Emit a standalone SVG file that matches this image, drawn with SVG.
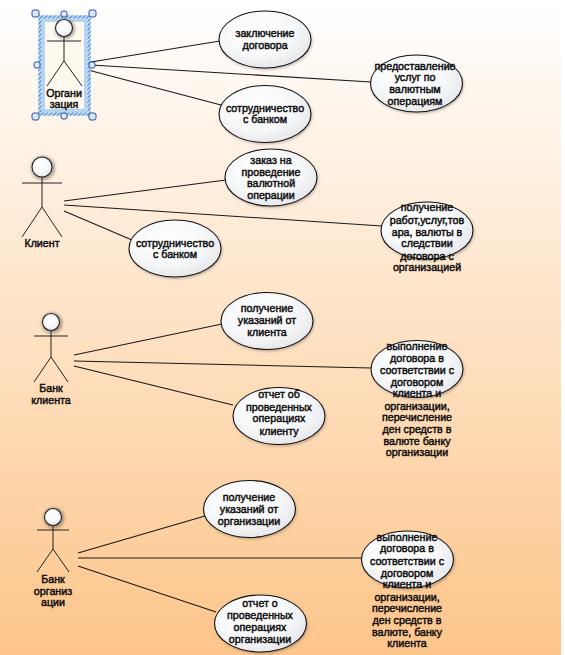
<svg xmlns="http://www.w3.org/2000/svg" width="565" height="655" viewBox="0 0 565 655">
<defs>
<linearGradient id="bg" x1="0" y1="0" x2="0" y2="1"><stop offset="0" stop-color="#ffffff"/><stop offset="1" stop-color="#fdc58a"/></linearGradient>
<radialGradient id="el" cx="0.42" cy="0.38" r="0.72"><stop offset="0" stop-color="#ffffff"/><stop offset="0.55" stop-color="#f7f8fa"/><stop offset="1" stop-color="#e2e2e6"/></radialGradient>
<pattern id="hatch" width="3" height="3" patternUnits="userSpaceOnUse" patternTransform="rotate(45)"><rect width="3" height="3" fill="#4f93d6"/><rect width="1.5" height="3" fill="#d5e6f7"/></pattern>
<filter id="sh" x="-30%" y="-30%" width="160%" height="160%"><feGaussianBlur stdDeviation="1.6"/></filter>
<ellipse id="e" rx="46" ry="28.5"/>
</defs>
<style>
.c{fill:none;stroke:#1a1a1a;stroke-width:1.1}
.a{fill:none;stroke:#222;stroke-width:1}
.u{fill:url(#el);stroke:#111;stroke-width:1.1}
.s{fill:#5a4a40;opacity:.45;filter:url(#sh)}
.h{fill:url(#el);stroke:#222;stroke-width:1.1}
.hs{fill:#6b5a50;opacity:.55;filter:url(#sh)}
text{font-family:"Liberation Sans",Arial,sans-serif;font-size:10.7px;fill:#0c0c0c;stroke:#0c0c0c;stroke-width:.45;text-anchor:middle}
.g{fill:#dce9f8;stroke:#2a4fb0;stroke-width:1}
</style>
<rect width="561" height="655" fill="url(#bg)"/>
<rect x="561" width="4" height="655" fill="#fff"/>
<g id="connectors">
<path class="c" d="M91 62L220 41M91 65L371 82M88 70L221 105"/>
<path class="c" d="M64 201L226 180M64 205L382 226M64 211L132 240"/>
<path class="c" d="M74 355L222 324M74 361L371 368M74 366L233 405"/>
<path class="c" d="M78 553L205 516M78 558L362 558M78 566L216 612"/>
</g>
<g id="actor-org">
<rect x="40" y="17" width="49" height="97" fill="#fff8ee" stroke="url(#hatch)" stroke-width="3.4"/>
<rect x="43.500" y="20.500" width="42" height="90" fill="none" stroke="#b4d4f2" stroke-width="3"/>
<circle class="hs" cx="65" cy="29" r="10"/><circle class="h" cx="64" cy="28" r="8.500"/>
<path class="a" d="M47 41H81M64 37V61L47 86M64 61L82 86"/>
<text x="64" y="97">Органи</text><text x="64" y="108">зация</text>
<rect class="g" x="32" y="10" width="7" height="7" rx="2"/><rect class="g" x="61" y="11" width="6" height="6" rx="2"/><rect class="g" x="89" y="10" width="7" height="7" rx="2"/>
<rect class="g" x="34" y="62" width="6" height="6" rx="2"/><rect class="g" x="89" y="62" width="6" height="6" rx="2"/>
<rect class="g" x="32" y="113" width="7" height="7" rx="2"/><rect class="g" x="61" y="113" width="6" height="6" rx="2"/><rect class="g" x="89" y="113" width="7" height="7" rx="2"/>
</g>
<g id="actor-client">
<circle class="hs" cx="43" cy="168" r="12"/><circle class="h" cx="42" cy="167" r="10"/>
<path class="a" d="M22 183H62M42 177V207L22 237M42 207L62 237"/>
<text x="42" y="247">Клиент</text>
</g>
<g id="actor-bank-client">
<circle class="hs" cx="52" cy="323" r="10.500"/><circle class="h" cx="51" cy="322" r="8.500"/>
<path class="a" d="M34 336H68M51 331V357L34 382M51 357L68 382"/>
<text x="51" y="392">Банк</text><text x="51" y="404">клиента</text>
</g>
<g id="actor-bank-org">
<circle class="hs" cx="54" cy="518" r="10.500"/><circle class="h" cx="53" cy="517" r="8.500"/>
<path class="a" d="M37 530H69M53 526V549L37 572M53 549L69 572"/>
<text x="53" y="583">Банк</text><text x="53" y="595">организ</text><text x="53" y="606">ации</text>
</g>
<g id="uc1"><use href="#e" class="s" x="266" y="41"/><use href="#e" class="u" x="265" y="39.500"/><text x="265" y="37">заключение</text><text x="265" y="49">договора</text></g>
<g id="uc2"><use href="#e" class="s" x="417.500" y="85"/><use href="#e" class="u" x="416.500" y="83.500"/><text x="415" y="70">предоставление</text><text x="415" y="81">услуг по</text><text x="415" y="93">валютным</text><text x="415" y="105">операциям</text></g>
<g id="uc3"><use href="#e" class="s" x="266" y="115.500"/><use href="#e" class="u" x="265" y="114"/><text x="265" y="112">сотрудничество</text><text x="265" y="123">с банком</text></g>
<g id="uc4"><use href="#e" class="s" x="272" y="179"/><use href="#e" class="u" x="271" y="177.500"/><text x="271" y="164">заказ на</text><text x="271" y="176">проведение</text><text x="271" y="187">валютной</text><text x="271" y="199">операции</text></g>
<g id="uc5"><use href="#e" class="s" x="428" y="232"/><use href="#e" class="u" x="427" y="230.500"/><text x="427" y="211">получение</text><text x="427" y="224">работ,услуг,тов</text><text x="427" y="236">ара, валюты в</text><text x="427" y="247">следствии</text><text x="427" y="260">договора с</text><text x="427" y="271">организацией</text></g>
<g id="uc6"><use href="#e" class="s" x="176" y="250"/><use href="#e" class="u" x="175" y="248.500"/><text x="175" y="247">сотрудничество</text><text x="175" y="258">с банком</text></g>
<g id="uc7"><use href="#e" class="s" x="268" y="322.500"/><use href="#e" class="u" x="267" y="321"/><text x="267" y="312">получение</text><text x="267" y="324">указаний от</text><text x="267" y="336">клиента</text></g>
<g id="uc8"><use href="#e" class="s" x="418" y="370.500"/><use href="#e" class="u" x="417" y="369"/><text x="417" y="350">выполнение</text><text x="417" y="362">договора в</text><text x="417" y="374">соответствии с</text><text x="417" y="386">договором</text><text x="417" y="397">клиента и</text><text x="417" y="410">организации,</text><text x="417" y="421">перечисление</text><text x="417" y="433">ден средств в</text><text x="417" y="445">валюте банку</text><text x="417" y="456">организации</text></g>
<g id="uc9"><use href="#e" class="s" x="280" y="417.500"/><use href="#e" class="u" x="279" y="416"/><text x="279" y="398">отчет об</text><text x="279" y="411">проведенных</text><text x="279" y="422">операциях</text><text x="279" y="435">клиенту</text></g>
<g id="uc10"><use href="#e" class="s" x="250.500" y="510.500"/><use href="#e" class="u" x="249.500" y="509"/><text x="249" y="501">получение</text><text x="249" y="513">указаний от</text><text x="249" y="525">организации</text></g>
<g id="uc11"><use href="#e" class="s" x="408.500" y="561"/><use href="#e" class="u" x="407.500" y="559.500"/><text x="407" y="541">выполнение</text><text x="407" y="552">договора в</text><text x="407" y="565">соответствии с</text><text x="407" y="577">договором</text><text x="407" y="588">клиента и</text><text x="407" y="601">организации,</text><text x="407" y="612">перечисление</text><text x="407" y="624">ден средств в</text><text x="407" y="636">валюте, банку</text><text x="407" y="647">клиента</text></g>
<g id="uc12"><use href="#e" class="s" x="261.500" y="625"/><use href="#e" class="u" x="260.500" y="623.500"/><text x="260" y="607">отчет о</text><text x="260" y="619">проведенных</text><text x="260" y="631">операциях</text><text x="260" y="643">организации</text></g>
</svg>
